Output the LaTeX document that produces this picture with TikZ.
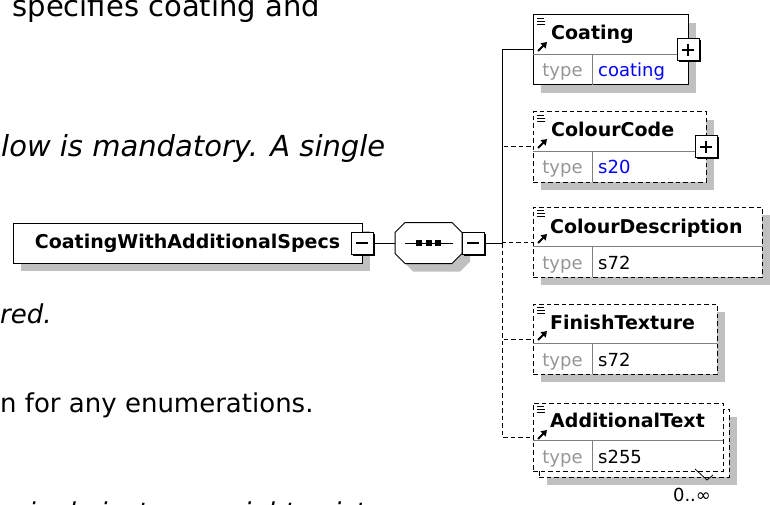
\documentclass[tikz,border=0pt]{standalone}
\usepackage{fontspec}
\setmainfont{DejaVu Sans}
\usetikzlibrary{calc,positioning,arrows.meta,shadows}
\definecolor{shadegray}{RGB}{192,192,192}
\definecolor{divgray}{RGB}{128,128,128}
\definecolor{typegray}{RGB}{150,150,150}
\definecolor{typeblue}{RGB}{0,0,255}

\tikzset{
  box/.style={draw, fill=white, line width=1pt, inner sep=0pt, outer sep=0pt},
  shade/.style={drop shadow={shadow xshift=8pt, shadow yshift=-8pt, fill=shadegray, opacity=1}},
  opt/.style={dash pattern=on 4.5pt off 3pt},
  elem/.style={box, shade, anchor=north west, minimum height=70pt},
  toggle/.style={box, minimum width=22pt, minimum height=22pt,
    drop shadow={shadow xshift=1.5pt, shadow yshift=-1.5pt, fill=black, opacity=1}},
  wire/.style={line width=1pt},
  divider/.style={draw=divgray, line width=0.8pt},
  ename/.style={font=\bfseries\fontsize{19}{19}\selectfont, inner sep=0pt, anchor=base west},
  tlabel/.style={font=\fontsize{18}{18}\selectfont, text=typegray, inner sep=0pt, anchor=base},
  tvalue/.style={font=\fontsize{18}{18}\selectfont, inner sep=0pt, anchor=base west},
  prose/.style={font=\fontsize{29}{29}\selectfont, inner sep=0pt, anchor=base west},
  proseit/.style={prose, font=\fontsize{29}{29}\selectfont\itshape},
  plus/.pic={\draw[line width=1.3pt] (-6,0) -- (6,0) (0,-6) -- (0,6);},
  minus/.pic={\draw[line width=1.3pt] (-6,0) -- (6,0);},
  octa/.pic={\path[pic actions] (-23.5,-20.5) -- (23.5,-20.5) -- (33.5,-10.5) -- (33.5,10.5)
    -- (23.5,20.5) -- (-23.5,20.5) -- (-33.5,10.5) -- (-33.5,-10.5) -- cycle;},
  icons/.pic={
    \draw[line width=1pt] (4,3.5) -- (11,3.5) (4,6.5) -- (12,6.5) (4,9.5) -- (12,9.5);
    \draw[line width=2pt, -{Triangle[length=5.5pt,width=7pt]}] (5,36) -- (14,27);
  }
}

\begin{document}
\begin{tikzpicture}[x=1pt,y=-1pt]
  \useasboundingbox (0,0) rectangle (770,505);

  % prose of the page behind the diagram
  \node[prose, anchor=base east] (p1) at (320,17) {specifies coating and};
  \node[proseit] (p2) at (1,157) {low is mandatory. A single};
  \node[proseit, font=\fontsize{26}{26}\selectfont\itshape] (p3) at (0,323) {red.};
  \node[prose, font=\fontsize{26}{26}\selectfont] (p4) at (0,412) {n for any enumerations.};
  \node[proseit, font=\fontsize{26}{26}\selectfont\itshape] (p5) at (15,521) {single instance might exist};

  % CoatingWithAdditionalSpecs
  \node[box, shade, minimum width=349pt, minimum height=40pt, font=\bfseries\fontsize{19}{19}\selectfont] (main) at (187.5,243) {CoatingWithAdditionalSpecs};
  \node[toggle] (mtog) at (main.east) {};
  \pic at (mtog) {minus};

  % sequence
  \node[minimum width=67pt, minimum height=41pt, inner sep=0pt, outer sep=0pt] (seq) at (428.5,243) {};
  \pic[fill=shadegray] at ($(seq.center)+(8,8)$) {octa};
  \pic[draw, fill=white, line width=1pt] at (seq.center) {octa};
  \draw[wire] ($(seq.west)+(10,0)$) -- ($(seq.east)+(-9,0)$);
  \fill ($(seq.center)+(-12.5,-3)$) rectangle +(6,6);
  \fill ($(seq.center)+(-3,-3)$) rectangle +(6,6);
  \fill ($(seq.center)+(6.5,-3)$) rectangle +(6,6);
  \node[toggle, anchor=west] (stog) at (seq.east) {};
  \pic at (stog) {minus};
  \coordinate[right=18pt of stog] (bus);

  % Coating
  \node[elem, minimum width=155pt] (coat) at (533,15) {};
  \draw[divider] ($(coat.north west)+(0,39)$) -- ($(coat.north east)+(0,39)$);
  \draw[divider] ($(coat.north west)+(59,39)$) -- ($(coat.south west)+(59,0)$);
  \pic at (coat.north west) {icons};
  \node[ename] at ($(coat.north west)+(18,25)$) {Coating};
  \node[tlabel] at ($(coat.south west)+(29.5,-8)$) {type};
  \node[tvalue, text=typeblue] at ($(coat.south west)+(65,-8)$) {coating};
  \node[toggle] (coattog) at (coat.east) {};
  \pic at (coattog) {plus};

  % ColourCode
  \node[elem, opt, minimum width=173pt] (ccode) at (533,112) {};
  \draw[divider] ($(ccode.north west)+(0,39)$) -- ($(ccode.north east)+(0,39)$);
  \draw[divider] ($(ccode.north west)+(59,39)$) -- ($(ccode.south west)+(59,0)$);
  \pic at (ccode.north west) {icons};
  \node[ename] at ($(ccode.north west)+(18,25)$) {ColourCode};
  \node[tlabel] at ($(ccode.south west)+(29.5,-8)$) {type};
  \node[tvalue, text=typeblue] at ($(ccode.south west)+(65,-8)$) {s20};
  \node[toggle] (ccodetog) at (ccode.east) {};
  \pic at (ccodetog) {plus};

  % ColourDescription
  \node[elem, opt, minimum width=229pt] (cdesc) at (533,207) {};
  \draw[divider] ($(cdesc.north west)+(0,39)$) -- ($(cdesc.north east)+(0,39)$);
  \draw[divider] ($(cdesc.north west)+(59,39)$) -- ($(cdesc.south west)+(59,0)$);
  \pic at (cdesc.north west) {icons};
  \node[ename] at ($(cdesc.north west)+(17,26)$) {ColourDescription};
  \node[tlabel] at ($(cdesc.south west)+(29.5,-8)$) {type};
  \node[tvalue] at ($(cdesc.south west)+(65,-8)$) {s72};

  % FinishTexture
  \node[elem, opt, minimum width=184pt] (fin) at (533,304) {};
  \draw[divider] ($(fin.north west)+(0,39)$) -- ($(fin.north east)+(0,39)$);
  \draw[divider] ($(fin.north west)+(59,39)$) -- ($(fin.south west)+(59,0)$);
  \pic at (fin.north west) {icons};
  \node[ename] at ($(fin.north west)+(17,25)$) {FinishTexture};
  \node[tlabel] at ($(fin.south west)+(29.5,-8)$) {type};
  \node[tvalue] at ($(fin.south west)+(65,-8)$) {s72};

  % AdditionalText, 0..unbounded
  \node[elem, opt, minimum width=190pt, minimum height=68pt] (addback) at (539,409) {};
  \node[box, opt, anchor=north west, minimum width=190pt, minimum height=68pt] (addtext) at (533,403) {};
  \draw[divider] ($(addtext.north west)+(0,37)$) -- ($(addtext.north east)+(0,37)$);
  \draw[divider] ($(addtext.north west)+(59,37)$) -- ($(addtext.south west)+(59,0)$);
  \pic at (addtext.north west) {icons};
  \node[ename] at ($(addtext.north west)+(17,24)$) {AdditionalText};
  \node[tlabel] at ($(addtext.south west)+(29.5,-8)$) {type};
  \node[tvalue] at ($(addtext.south west)+(65,-8)$) {s255};
  \draw[line width=0.8pt] (695,469) -- (707,480) -- (713,475);
  \node[tvalue, anchor=base] (occ) at (692,501) {0..∞};

  % connectors
  \draw[wire] (mtog) -- (seq);
  \draw[wire] (stog) -- (bus);
  \draw[wire] (bus) |- (coat.west);
  \draw[wire, opt] (bus) |- (ccode.west);
  \draw[wire, opt] (bus) |- (cdesc.west);
  \draw[wire, opt] (bus) |- (fin.west);
  \draw[wire, opt] (bus) |- (addtext.west);
\end{tikzpicture}
\end{document}
